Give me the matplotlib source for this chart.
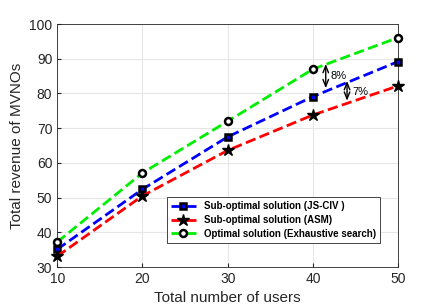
import matplotlib.pyplot as plt

plt.rcParams['font.family'] = ['Liberation Sans', 'DejaVu Sans']

users = [10, 20, 30, 40, 50]
js_civ = [35.1, 52.4, 67.5, 79.1, 89.2]
asm = [33.1, 50.5, 63.6, 73.8, 82.2]
exhaustive = [37.2, 57.1, 72.0, 87.0, 96.1]

fig = plt.figure(figsize=(4.4, 3.08), dpi=100)
ax = fig.add_axes([0.13, 0.133, 0.775, 0.789])

ax.plot(users, js_civ, '--', color='blue', lw=2, marker='s', ms=5,
        mec='black', mfc='blue', mew=1.8, clip_on=False, zorder=3,
        label='Sub-optimal solution (JS-CIV )')
ax.plot(users, asm, '--', color='red', lw=2, marker='*', ms=9,
        mec='black', mfc='black', clip_on=False, zorder=3,
        label='Sub-optimal solution (ASM)')
ax.plot(users, exhaustive, '--', color='#00ee00', lw=2, marker='o', ms=5,
        mec='black', mfc='white', mew=1.8, clip_on=False, zorder=3,
        label='Optimal solution (Exhaustive search)')

# gap arrows
arrow = dict(arrowstyle='<->, head_length=0.5, head_width=0.2', color='black', lw=1,
             shrinkA=0, shrinkB=0)
ax.annotate('', xy=(41.5, 81.5), xytext=(41.5, 88.5), arrowprops=arrow)
ax.text(42.1, 84.3, '8%', fontsize=8)
ax.annotate('', xy=(44.0, 77.9), xytext=(44.0, 83.6), arrowprops=arrow)
ax.text(44.6, 79.6, '7%', fontsize=8)

ax.set_xlim(10, 50)
ax.set_ylim(30, 100)
ax.set_xticks(users)
ax.set_yticks(range(30, 101, 10))
ax.grid(True, color='#e6e6e6', lw=0.8)
ax.tick_params(labelsize=10, colors='#262626', direction='in', length=3)
for s in ax.spines.values():
    s.set_color('#262626')
    s.set_linewidth(0.6)

ax.set_xlabel('Total number of users', fontsize=11, color='#262626')
ax.set_ylabel('Total revenue of MVNOs', fontsize=11, color='#262626')

leg = ax.legend(loc='lower right', bbox_to_anchor=(0.96, 0.08),
                prop={'weight': 'bold', 'size': 7}, fancybox=False,
                edgecolor='#262626', framealpha=1, handlelength=2.6,
                borderpad=0.4, labelspacing=0.4)
leg.get_frame().set_linewidth(0.6)

fig.savefig('out.png', dpi=100)
